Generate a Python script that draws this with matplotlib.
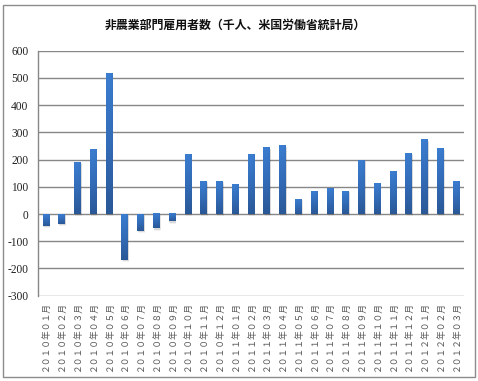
import matplotlib
matplotlib.use('Agg')
import matplotlib.pyplot as plt
import numpy as np
from matplotlib.patches import Rectangle
from matplotlib.colors import LinearSegmentedColormap

title = '非農業部門雇用者数（千人、米国労働省統計局）'
months = ['２０１０年０１月', '２０１０年０２月', '２０１０年０３月', '２０１０年０４月',
          '２０１０年０５月', '２０１０年０６月', '２０１０年０７月', '２０１０年０８月',
          '２０１０年０９月', '２０１０年１０月', '２０１０年１１月', '２０１０年１２月',
          '２０１１年０１月', '２０１１年０２月', '２０１１年０３月', '２０１１年０４月',
          '２０１１年０５月', '２０１１年０６月', '２０１１年０７月', '２０１１年０８月',
          '２０１１年０９月', '２０１１年１０月', '２０１１年１１月', '２０１１年１２月',
          '２０１２年０１月', '２０１２年０２月', '２０１２年０３月']
values = [-43, -36, 189, 236, 517, -168, -61, -53, -27, 217, 119, 119,
          108, 217, 243, 251, 53, 83, 93, 83, 198, 113, 156, 223,
          273, 240, 119]
yticks = [-300, -200, -100, 0, 100, 200, 300, 400, 500, 600]

W, H = 478, 381
fig = plt.figure(figsize=(W / 100, H / 100), dpi=100)

# outer frame
fig.patches.append(Rectangle((3 / W, 1 - 377 / H), 472 / W, 372 / H,
                             transform=fig.transFigure, fill=False,
                             edgecolor='#8c8c8c', linewidth=1.0))

ax = fig.add_axes([38 / W, 1 - 295.7 / H, (464 - 38) / W, (295.7 - 50.7) / H])

x = np.arange(len(values))
bars = ax.bar(x, values, width=0.42, color='#3370c0', zorder=3)

cmap = LinearSegmentedColormap.from_list('g', ['#2a5897', '#336cb8', '#3b7dd0'])
gy = np.linspace(0, 1, 64).reshape(-1, 1)
gx = 1 - 0.18 * np.clip((np.linspace(0, 1, 16) - 0.55) / 0.45, 0, 1) ** 1.5
grad = gy * gx.reshape(1, -1)
for b in bars:
    x0, w = b.get_x(), b.get_width()
    y0, h = b.get_y(), b.get_height()
    ylo, yhi = min(y0, y0 + h), max(y0, y0 + h)
    # soft shadow
    ax.add_patch(Rectangle((x0 + 0.04, ylo - 5), w + 0.02, yhi - ylo + 2,
                           facecolor='#000000', alpha=0.10, edgecolor='none', zorder=2.8))
    ax.add_patch(Rectangle((x0 + 0.07, ylo - 9), w - 0.02, yhi - ylo + 2,
                           facecolor='#000000', alpha=0.05, edgecolor='none', zorder=2.7))
    ax.imshow(grad, extent=[x0, x0 + w, ylo, yhi], origin='lower', cmap=cmap,
              vmin=0, vmax=1, aspect='auto', zorder=3.5, interpolation='bilinear')

ax.set_xlim(-0.5, len(values) - 0.5)
ax.set_ylim(-300, 600)
ax.set_yticks(yticks)
ax.set_yticklabels([str(v) for v in yticks], family='Liberation Serif', fontsize=8.3, color='#222222')
ax.set_xticks(x)
ax.set_xticklabels(months, rotation=90, family=['Noto Sans CJK JP', 'DejaVu Sans'],
                   fontsize=6.3, color='#555555')
ax.tick_params(axis='both', length=0)
ax.tick_params(axis='y', pad=7)
ax.tick_params(axis='x', pad=4)

ax.grid(axis='y', color='#878787', linewidth=1.0, zorder=0)
ax.set_axisbelow(True)
for s in ['top', 'right', 'bottom']:
    ax.spines[s].set_visible(False)
ax.spines['left'].set_color('#878787')
ax.spines['left'].set_linewidth(1.0)

fig.text(235 / W, 1 - 25 / H, title, ha='center', va='center',
         family=['Noto Sans CJK JP', 'DejaVu Sans'], fontweight='bold', fontsize=8.6, color='#111111')

fig.savefig('out.png', dpi=100)
